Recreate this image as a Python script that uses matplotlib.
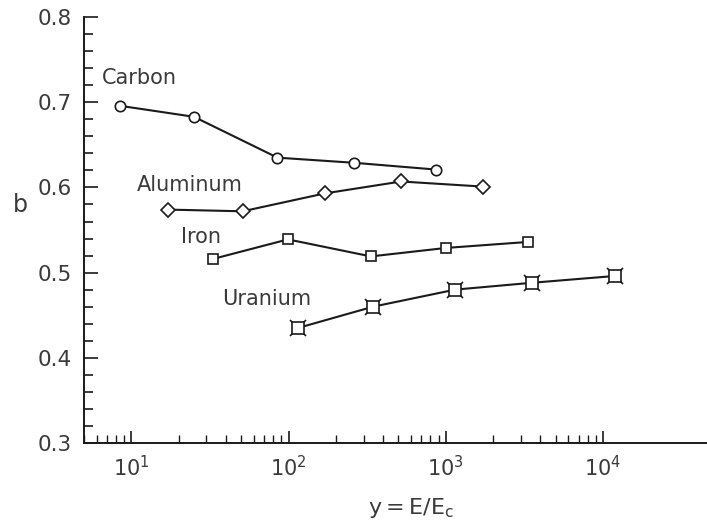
import matplotlib
matplotlib.use("Agg")
import matplotlib.pyplot as plt
from matplotlib.ticker import LogLocator, MultipleLocator, NullFormatter, FixedLocator

# values
carbon_x = [8.4, 25, 85, 260, 870]
carbon_b = [0.696, 0.683, 0.635, 0.629, 0.621]
aluminum_x = [17, 51, 170, 520, 1730]
aluminum_b = [0.574, 0.572, 0.593, 0.607, 0.601]
iron_x = [33, 99, 334, 1010, 3340]
iron_b = [0.516, 0.539, 0.519, 0.529, 0.536]
uranium_x = [115, 346, 1150, 3520, 11900]
uranium_b = [0.435, 0.460, 0.480, 0.488, 0.496]

labels = ["Carbon", "Aluminum", "Iron", "Uranium"]
label_x = [6.5, 10.9, 20.8, 38]
label_b = [0.729, 0.603, 0.542, 0.469]

# minor ticks only run up to the 10^4 decade
minor_x = [m * 10**e for e in range(0, 4) for m in range(2, 10) if m * 10**e >= 5]

ink = "#1a1a1a"
txt = "#3a3a3a"

fig = plt.figure(figsize=(7.07, 5.21), dpi=100)
ax = fig.add_axes([0.119, 0.150, 0.881, 0.817])

ax.plot(carbon_x, carbon_b, color=ink, lw=1.5, marker="o", ms=7.5,
        mfc="white", mec=ink, mew=1.2)
ax.plot(aluminum_x, aluminum_b, color=ink, lw=1.5, marker="D", ms=7,
        mfc="white", mec=ink, mew=1.2)
ax.plot(iron_x, iron_b, color=ink, lw=1.5, marker="s", ms=7,
        mfc="white", mec=ink, mew=1.2)
# uranium: square with little spikes at the corners
ax.plot(uranium_x, uranium_b, color=ink, lw=1.5, ls="none", marker="x",
        ms=12, mew=1.2, mec=ink, zorder=3)
ax.plot(uranium_x, uranium_b, color=ink, lw=1.5, marker="s", ms=8,
        mfc="white", mec=ink, mew=1.2, zorder=4)

for name, lx, lb in zip(labels, label_x, label_b):
    ax.text(lx, lb, name, ha="left", va="center", fontsize=15, color=txt)

ax.set_xscale("log")
ax.set_xlim(5, 4.6e4)
ax.set_ylim(0.3, 0.8)

ax.xaxis.set_major_locator(LogLocator(base=10, numticks=10))
ax.xaxis.set_minor_locator(FixedLocator(minor_x))
ax.xaxis.set_minor_formatter(NullFormatter())
ax.yaxis.set_major_locator(MultipleLocator(0.1))
ax.yaxis.set_minor_locator(MultipleLocator(0.02))
ax.yaxis.set_major_formatter(plt.FuncFormatter(lambda v, p: f"{v:.1f}"))

ax.tick_params(which="both", direction="in", color=ink, labelcolor=txt)
ax.tick_params(axis="y", which="major", length=10, width=1.2, pad=9,
               labelsize=15.5)
ax.tick_params(axis="y", which="minor", length=6.5, width=1.2)
ax.tick_params(axis="x", which="major", length=9, width=1.2, pad=9,
               labelsize=15)
ax.tick_params(axis="x", which="minor", length=6, width=1.0)

for s in ["top", "right"]:
    ax.spines[s].set_visible(False)
for s in ["left", "bottom"]:
    ax.spines[s].set_color(ink)
    ax.spines[s].set_linewidth(1.4)

ax.set_xlabel(r"$\mathregular{y=E/E_c}$", fontsize=16, color=txt)
ax.xaxis.set_label_coords(0.525, -0.153)
ax.xaxis.label.set_va("center")
ax.set_ylabel("b", fontsize=17, color=txt, rotation=0)
ax.yaxis.set_label_coords(-0.103, 0.559)
ax.yaxis.label.set_va("center")

fig.savefig("out.png", dpi=100)
